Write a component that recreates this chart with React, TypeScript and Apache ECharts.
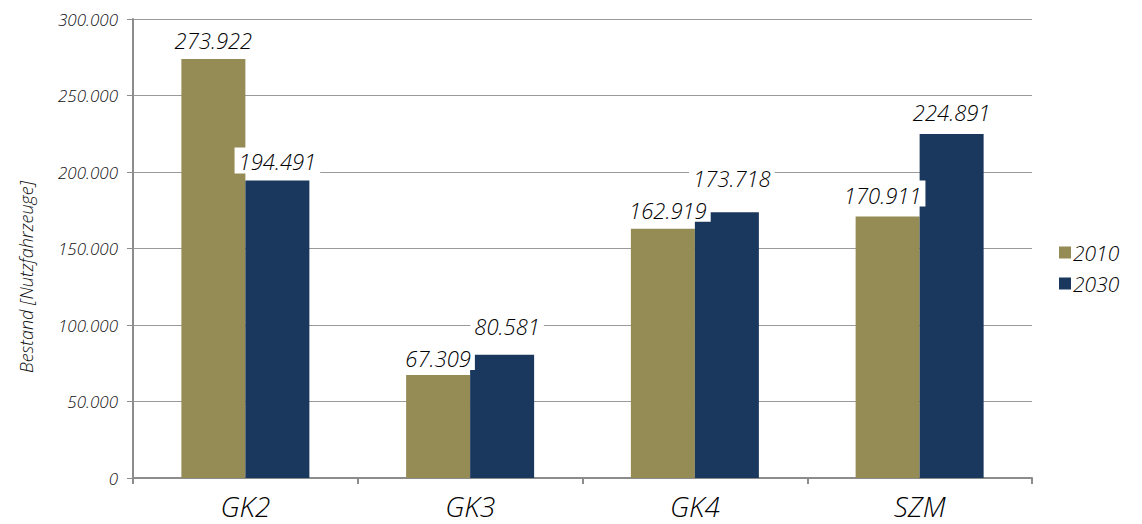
import React, { useEffect, useRef } from "react";
import * as echarts from "echarts";

// Vehicle classes on the x axis
const categories = ["GK2", "GK3", "GK4", "SZM"];
// Fleet size per class
const stock2010 = [273922, 67309, 162919, 170911];
const stock2030 = [194491, 80581, 173718, 224891];
const seriesNames = ["2010", "2030"];
const yTicks = { min: 0, max: 300000, interval: 50000 };

// Label nudges [dx, dy] so neighbouring value boxes don't collide
const labelNudge2010: [number, number][] = [[0, 0], [0, 2], [5, 0], [-5, -3]];
const labelNudge2030: [number, number][] = [[0, 0], [5, -10], [5, -15], [0, -3]];

const OLIVE = "#958B55";
const NAVY = "#1A375D";
const FONT = "'Open Sans', 'Noto Sans', sans-serif";
const LIGHT = 300;

const fmt = (v: number) =>
  v === 0 ? "0" : String(v).replace(/\B(?=(\d{3})+(?!\d))/g, ".");

function buildSeries(name: string, values: number[], color: string, nudge: [number, number][]) {
  return {
    name,
    type: "bar",
    barWidth: 64,
    barGap: "0%",
    itemStyle: { color },
    label: {
      show: true,
      position: "top",
      distance: 7,
      formatter: (p: any) => fmt(p.value),
      fontFamily: FONT,
      fontStyle: "italic",
      fontWeight: LIGHT,
      fontSize: 22,
      color: "#000000",
      backgroundColor: "#ffffff",
      padding: [3, 4, 1, 4],
    },
    data: values.map((v, i) => ({ value: v, label: { offset: nudge[i] } })),
  };
}

export default function App() {
  const ref = useRef<HTMLDivElement>(null);

  useEffect(() => {
    if (!ref.current) return;
    const chart = echarts.init(ref.current, undefined, { renderer: "svg" });
    chart.setOption({
      animation: false,
      backgroundColor: "#ffffff",
      grid: { left: 133, right: 110, top: 19, bottom: 46, outerBoundsMode: "none" },
      legend: {
        orient: "vertical",
        left: 1054,
        top: 237,
        itemWidth: 12,
        itemHeight: 12,
        itemGap: 10,
        icon: "rect",
        data: seriesNames,
        textStyle: {
          fontFamily: FONT,
          fontStyle: "italic",
          fontWeight: LIGHT,
          fontSize: 21,
          color: "#000000",
          padding: [0, 0, 0, -3],
        },
      },
      xAxis: {
        type: "category",
        data: categories,
        axisLine: { lineStyle: { color: "#8c8c8c", width: 2 } },
        axisTick: { show: true, length: 6, lineStyle: { color: "#8c8c8c", width: 2 } },
        axisLabel: {
          fontFamily: FONT,
          fontStyle: "italic",
          fontWeight: LIGHT,
          fontSize: 28,
          color: "#000000",
          margin: 14,
        },
      },
      yAxis: {
        type: "value",
        min: yTicks.min,
        max: yTicks.max,
        interval: yTicks.interval,
        axisLine: { show: true, lineStyle: { color: "#8c8c8c", width: 2 } },
        axisTick: { show: true, length: 6, lineStyle: { color: "#8c8c8c", width: 1 } },
        splitLine: { lineStyle: { color: "#9a9a9a", width: 1 } },
        axisLabel: {
          fontFamily: FONT,
          fontStyle: "italic",
          fontWeight: LIGHT,
          fontSize: 17,
          color: "#111111",
          margin: 15,
          formatter: (v: number) => fmt(v),
        },
      },
      graphic: [
        {
          type: "text",
          x: 26,
          y: 277,
          rotation: Math.PI / 2,
          style: {
            text: "Bestand [Nutzfahrzeuge]",
            fontFamily: FONT,
            fontStyle: "italic",
            fontWeight: LIGHT,
            fontSize: 18,
            fill: "#111111",
            align: "center",
            verticalAlign: "middle",
          },
        },
      ],
      series: [
        buildSeries(seriesNames[0], stock2010, OLIVE, labelNudge2010),
        buildSeries(seriesNames[1], stock2030, NAVY, labelNudge2030),
      ],
    });
    return () => chart.dispose();
  }, []);

  return (
    <div
      ref={ref}
      style={{ position: "fixed", left: 0, top: 0, width: 1142, height: 524, background: "#fff" }}
    />
  );
}
